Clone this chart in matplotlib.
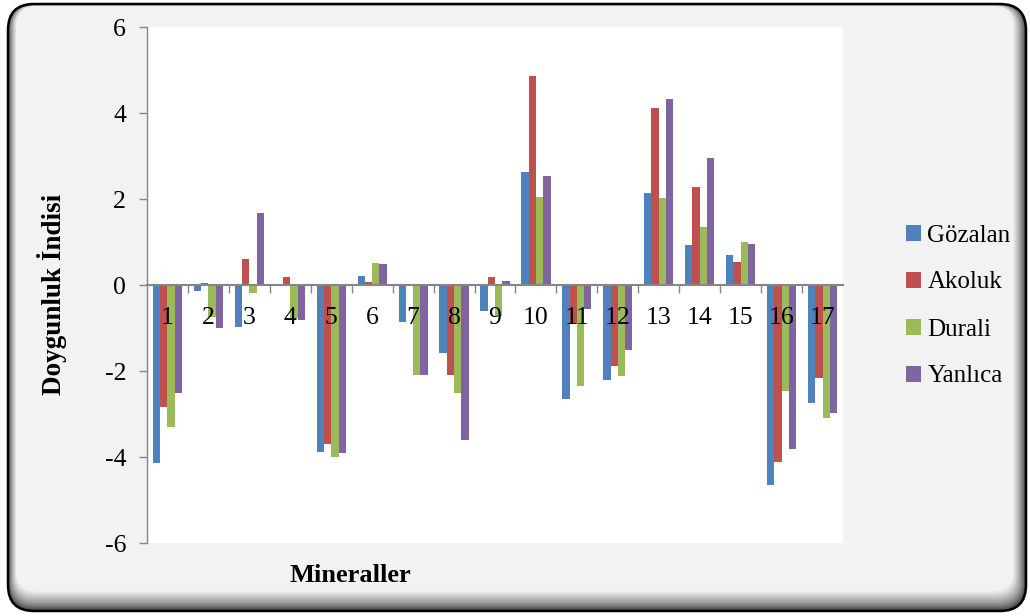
import numpy as np
import matplotlib
matplotlib.use("Agg")
import matplotlib.pyplot as plt
from matplotlib.patches import FancyBboxPatch
from matplotlib.ticker import FixedLocator, NullFormatter

# ---- data ----
mineraller = [str(i) for i in range(1, 18)]
gozalan = [-4.15, -0.14, -0.97, 0.00, -3.88, 0.22, -0.86, -1.58, -0.61, 2.62,
           -2.65, -2.20, 2.14, 0.94, 0.70, -4.65, -2.75]
akoluk = [-2.83, 0.04, 0.61, 0.19, -3.70, 0.08, 0.00, -2.09, 0.19, 4.86,
          -0.90, -1.88, 4.12, 2.29, 0.54, -4.12, -2.17]
durali = [-3.31, -0.75, -0.19, -0.76, -3.99, 0.52, -2.09, -2.50, -0.72, 2.05,
          -2.35, -2.11, 2.02, 1.36, 1.00, -2.47, -3.10]
yanlica = [-2.50, -1.00, 1.67, -0.82, -3.91, 0.49, -2.09, -3.61, 0.10, 2.53,
           -0.55, -1.51, 4.33, 2.95, 0.96, -3.82, -2.98]

seriler = ["Gözalan", "Akoluk", "Durali", "Yanlıca"]
renkler = ["#4F81BD", "#C0504D", "#9BBB59", "#8064A2"]

W, H, DPI = 1030, 616, 100
SERIF = ["Liberation Serif", "DejaVu Serif"]
plt.rcParams["font.family"] = SERIF

fig = plt.figure(figsize=(W / DPI, H / DPI), dpi=DPI, facecolor="white")

# ---- rounded frame with shaded edge ----
px = 1.0 / DPI
x0, y0, x1, y1 = 8, 4, 1026, 611   # pixel box (top-left origin)
steps = 16
dark = np.array([0.22, 0.22, 0.22])
light = np.array([0.949, 0.949, 0.949])
for i in range(steps):
    t = (i / (steps - 1)) ** 0.7
    c = dark * (1 - t) + light * t
    l = x0 + i * 0.55
    r = x1 - i * 0.85
    top = y0 + i * 0.15
    bot = y1 - i * 1.3
    fig.patches.append(FancyBboxPatch(
        (l * px, (H - bot) * px), (r - l) * px, (bot - top) * px,
        boxstyle=f"round,pad=0,rounding_size={max(0.26 - i*0.004, 0.1)}",
        transform=fig.dpi_scale_trans, facecolor=c, edgecolor="none", zorder=-10 + i * 0.01))
fig.patches.append(FancyBboxPatch(
    (x0 * px, (H - y1) * px), (x1 - x0) * px, (y1 - y0) * px,
    boxstyle="round,pad=0,rounding_size=0.26",
    transform=fig.dpi_scale_trans, facecolor="none", edgecolor="black",
    linewidth=1.8, zorder=-5))

# ---- plot area ----
ax = fig.add_axes([147 / W, 1 - 543 / H, (843 - 147) / W, (543 - 27) / H])
ax.set_facecolor("white")

x = np.arange(len(mineraller))
bw = 0.178
for k, (vals, ad, renk) in enumerate(zip([gozalan, akoluk, durali, yanlica], seriler, renkler)):
    ax.bar(x + (k - 1.5) * bw, vals, width=bw, color=renk, label=ad,
           edgecolor="none", zorder=1)

ax.set_xlim(-0.5, len(mineraller) - 0.5)
ax.set_ylim(-6, 6)
ax.set_yticks(np.arange(-6, 7, 2))
ax.set_yticklabels([str(v) for v in range(-6, 7, 2)])

grey = "#868686"
for s in ["top", "right"]:
    ax.spines[s].set_visible(False)
ax.spines["left"].set_color(grey)
ax.spines["bottom"].set_color(grey)
ax.spines["bottom"].set_position(("data", 0))
ax.spines["left"].set_linewidth(1.0)
ax.spines["bottom"].set_linewidth(1.5)

ax.tick_params(axis="y", direction="out", length=6, width=1, color=grey,
               labelsize=18.5, pad=9, labelcolor="black")
ax.set_xticks(x)
ax.set_xticklabels(mineraller)
ax.tick_params(axis="x", which="major", length=0, labelsize=18.5, pad=16, labelcolor="black")
ax.xaxis.set_minor_locator(FixedLocator(np.arange(0.5, len(mineraller) - 0.5, 1)))
ax.xaxis.set_minor_formatter(NullFormatter())
ax.tick_params(axis="x", which="minor", direction="out", length=6, width=1, color=grey)

# ---- axis titles ----
fig.text(52 / W, 1 - 294 / H, "Doygunluk İndisi", rotation=90, ha="center", va="center",
         fontsize=19.5, fontweight="bold", family=SERIF)
fig.text(350 / W, 1 - 575 / H, "Mineraller", ha="center", va="center",
         fontsize=19, fontweight="bold", family=SERIF)

# ---- legend ----
leg = fig.legend(loc="center left", bbox_to_anchor=(893 / W, 1 - 306 / H),
                 frameon=False, fontsize=18, handlelength=0.62, handleheight=0.62,
                 handletextpad=0.25, labelspacing=1.0, borderpad=0)

fig.savefig("out.png", dpi=DPI, facecolor="white")
